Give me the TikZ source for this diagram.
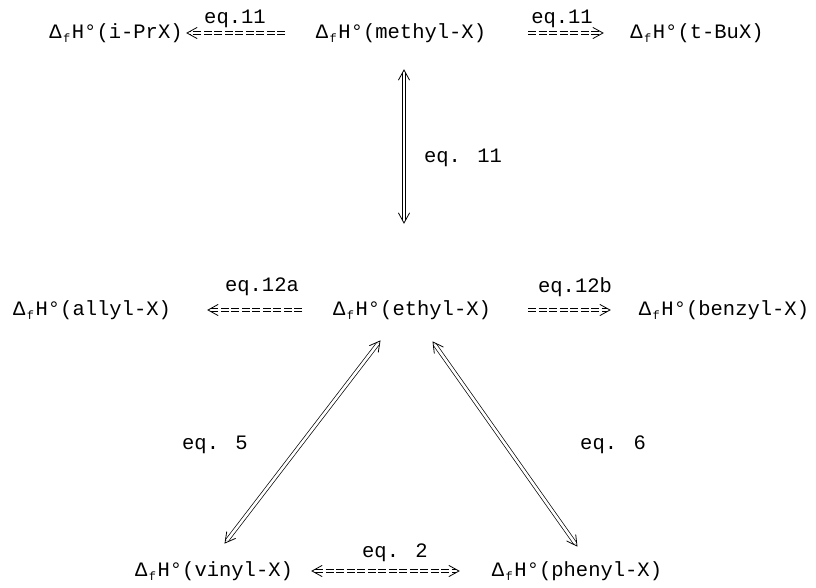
\documentclass[tikz,border=0pt]{standalone}
\usepackage{fontspec}
\setmainfont{Liberation Mono}
\usetikzlibrary{calc}
\newcommand\DfH{Δ\makebox[0.5em]{\raisebox{-0.35ex}{\fontsize{12}{12}\selectfont f}}H°}
% hollow double-line arrow head at #1, pointing away from #2
\newcommand\dhead[2]{\draw[headln] ($(#1)!10pt!(#2)!5.5pt!90:(#1)$) -- (#1) -- ($(#1)!10pt!(#2)!5.5pt!-90:(#1)$);}
\begin{document}
\begin{tikzpicture}[x=1pt,y=-1pt,
  every node/.style={font=\fontsize{20.5}{24}\selectfont, inner sep=0pt},
  term/.style={anchor=center},
  eqlab/.style={anchor=center},
  dbl/.style={double, double distance=2.6pt, line width=0.7pt},
  dsh/.style={dash pattern=on 8pt off 2.5pt},
  headln/.style={line width=0.8pt, line join=miter, line cap=round},
  sh1/.style={shorten >=3.2pt},
  sh2/.style={shorten >=3.2pt, shorten <=3.2pt}
]
\useasboundingbox (0,0) rectangle (816,587);
% terms
\node[term] (ipr) at (116,33) {\DfH(i-PrX)};
\node[term] (methyl) at (401,33) {\DfH(methyl-X)};
\node[term] (tbu) at (697,33) {\DfH(t-BuX)};
\node[term] (allyl) at (92,310) {\DfH(allyl-X)};
\node[term] (ethyl) at (412,310) {\DfH(ethyl-X)};
\node[term] (benzyl) at (724,310) {\DfH(benzyl-X)};
\node[term] (vinyl) at (214,571) {\DfH(vinyl-X)};
\node[term] (phenyl) at (577,571) {\DfH(phenyl-X)};
% labels
\node[eqlab] (l1) at (235,19) {eq.11};
\node[eqlab] (l2) at (562,19) {eq.11};
\node[eqlab] (l3) at (463,158) {eq. 11};
\node[eqlab] (l4) at (262,287) {eq.12a};
\node[eqlab] (l5) at (575,287) {eq.12b};
\node[eqlab] (l6) at (215,445) {eq. 5};
\node[eqlab] (l7) at (613,445) {eq. 6};
\node[eqlab] (l8) at (395,553) {eq. 2};
% arrow ends
\coordinate (a1s) at (285,33); \coordinate (a1e) at (187,33);
\coordinate (a2s) at (528,33); \coordinate (a2e) at (603,33);
\coordinate (a3s) at (404,70); \coordinate (a3e) at (404,223);
\coordinate (a4s) at (302,310); \coordinate (a4e) at (208,310);
\coordinate (a5s) at (528,310); \coordinate (a5e) at (610,310);
\coordinate (a6s) at (380,341); \coordinate (a6e) at (225,543);
\coordinate (a7s) at (433,342); \coordinate (a7e) at (577,546);
\coordinate (a8s) at (312,571); \coordinate (a8e) at (459,571);
% arrows
\draw[dbl,dsh,sh1] (a1s) -- (a1e); \dhead{a1e}{a1s}
\draw[dbl,dsh,sh1] (a2s) -- (a2e); \dhead{a2e}{a2s}
\draw[dbl,sh2] (a3s) -- (a3e); \dhead{a3s}{a3e} \dhead{a3e}{a3s}
\draw[dbl,dsh,sh1] (a4s) -- (a4e); \dhead{a4e}{a4s}
\draw[dbl,dsh,sh1] (a5s) -- (a5e); \dhead{a5e}{a5s}
\draw[dbl,sh2] (a6s) -- (a6e); \dhead{a6s}{a6e} \dhead{a6e}{a6s}
\draw[dbl,sh2] (a7s) -- (a7e); \dhead{a7s}{a7e} \dhead{a7e}{a7s}
\draw[dbl,dsh,sh2] (a8s) -- (a8e); \dhead{a8s}{a8e} \dhead{a8e}{a8s}
\end{tikzpicture}
\end{document}
